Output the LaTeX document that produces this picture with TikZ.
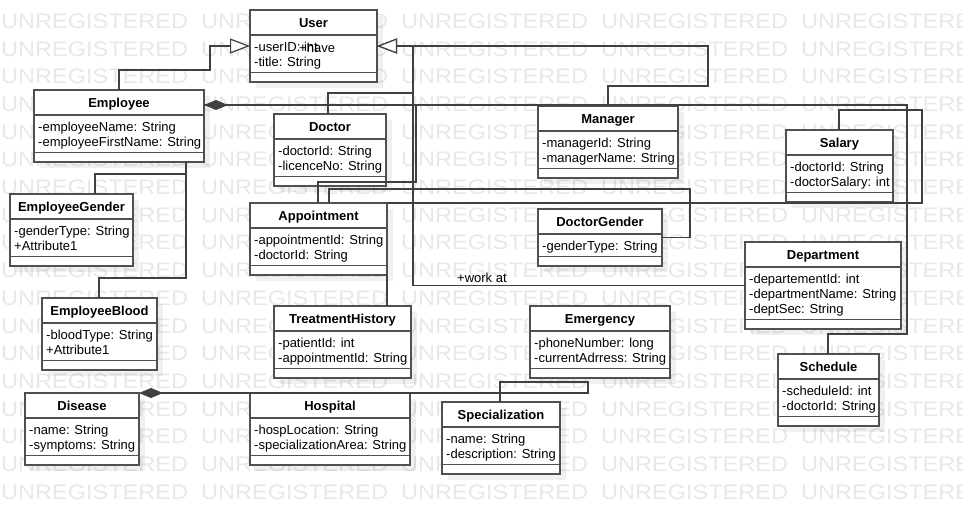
\documentclass[tikz,border=0pt]{standalone}
\usepackage{fontspec}
\setmainfont{Liberation Sans}
\usetikzlibrary{arrows.meta}
\definecolor{lc}{HTML}{404040}
\definecolor{bc}{HTML}{505050}
\definecolor{wm}{HTML}{E8E8E8}
\tikzset{
 clsbox/.style={draw=bc, line width=1.3pt, fill=white, inner sep=0pt, outer sep=0pt},
 clsline/.style={draw=bc, line width=1.3pt},
 clstitle/.style={font=\fontsize{13}{15}\selectfont\bfseries, anchor=base, inner sep=0pt},
 clsattr/.style={font=\fontsize{13}{15}\selectfont, anchor=base west, inner sep=0pt},
 shadowc/.style={fill=black, opacity=0.06},
 conn/.style={draw=lc, line width=1.2pt},
 gen/.style={conn, -{Triangle[length=20pt, width=15pt, fill=white]}},
 comp/.style={conn, {Diamond[length=24pt, width=10pt]}-},
 lbl/.style={font=\fontsize{13}{15}\selectfont, anchor=base west, inner sep=0pt},
 wmark/.style={font=\fontsize{21}{21}\selectfont, text=wm, anchor=base west, inner sep=0pt},
}
\newcommand{\umlclass}[7]{%
 \pgfmathsetmacro{\hh}{42+15*#5}%
 \pgfmathsetmacro{\ha}{32.5+15*#5}%
 \fill[shadowc] (#2+6,#3+6) rectangle (#2+#4+6,#3+\hh+6);
 \node[clsbox, minimum width=#4pt, minimum height=\hh pt, anchor=north west] (#1) at (#2,#3) {};
 \draw[clsline] (#2,#3+25) -- (#2+#4,#3+25);
 \draw[clsline] (#2,#3+\ha) -- (#2+#4,#3+\ha);
 \node[clstitle] (#1-t) at (#2+#4/2,#3+17.5) {#6};
 \foreach \a [count=\i] in {#7} {\node[clsattr] (#1-a\i) at (#2+4,#3+41+15.3*\i-15.3) {\a};}
}
\begin{document}
\begin{tikzpicture}[x=1pt,y=-1pt]
\useasboundingbox (0,0) rectangle (963,514);
\fill[white] (0,0) rectangle (963,514);
\begin{scope}
\clip (0,0) rectangle (963,514);
\foreach \r in {0,...,17} {
  \foreach \c in {0,...,4} {
    \node[wmark] (wm-\r-\c) at (1+200*\c, 28.3+27.7*\r) {\scalebox{1.12}[1]{UNREGISTERED}};
  }
}
\end{scope}
% classes
\umlclass{user}{250}{10}{127}{2}{User}{-userID: int, -title: String}
\umlclass{emp}{34}{90}{170}{2}{Employee}{-employeeName: String, -employeeFirstName: String}
\umlclass{doc}{274}{114}{112}{2}{Doctor}{-doctorId: String, -licenceNo: String}
\umlclass{mgr}{538}{106}{140}{2}{Manager}{-managerId: String, -managerName: String}
\umlclass{sal}{786}{130}{107}{2}{Salary}{-doctorId: String, -doctorSalary: int}
\umlclass{eg}{10}{194}{123}{2}{EmployeeGender}{-genderType: String, +Attribute1}
\umlclass{appt}{250}{203}{137}{2}{Appointment}{-appointmentId: String, -doctorId: String}
\umlclass{dg}{538}{209}{124}{1}{DoctorGender}{-genderType: String}
\umlclass{dept}{745}{242}{156}{3}{Department}{-departementId: int, -departmentName: String, -deptSec: String}
\umlclass{eb}{42}{298}{115}{2}{EmployeeBlood}{-bloodType: String, +Attribute1}
\umlclass{th}{274}{306}{137}{2}{TreatmentHistory}{-patientId: int, -appointmentId: String}
\umlclass{emer}{530}{306}{140}{2}{Emergency}{-phoneNumber: long, -currentAdrress: String}
\umlclass{sch}{778}{354}{101}{2}{Schedule}{-scheduleId: int, -doctorId: String}
\umlclass{dis}{25}{393}{114}{2}{Disease}{-name: String, -symptoms: String}
\umlclass{hosp}{250}{393}{160}{2}{Hospital}{-hospLocation: String, -specializationArea: String}
\umlclass{spec}{442}{402}{118}{2}{Specialization}{-name: String, -description: String}
% connectors
\draw[gen] ([xshift=85pt]emp.north west) |- (210,70) |- (user.west);
\draw[gen] ([xshift=70pt]mgr.north west) |- (708,86) |- (user.east);
\draw[gen] ([xshift=54pt]doc.north west) |- (413,93) |- (user.east);
\draw[conn, shorten >=20pt] (dept.west) -| (413,46) -- (user.east);
\draw[conn] ([xshift=68pt]appt.north west) |- (416,182) |- ([yshift=-15pt]emp.north east);
\draw[comp] ([yshift=-15pt]emp.north east) -| (907,334) -| ([xshift=50pt]sch.north west);
\draw[conn] ([xshift=79pt]appt.north west) |- (690,189) |- (dg.east);
\draw[conn] ([xshift=53pt]sal.north west) |- (922,110) |- (appt.north east);
\draw[conn] (appt.south east) -- (appt.south east |- th.north);
\draw[conn] ([xshift=152pt]emp.south west) |- (95,174) -- ([xshift=85pt]eg.north west);
\draw[conn] ([xshift=152pt]emp.south west) |- (99,278) -- ([xshift=57pt]eb.north west);
\draw[comp] (dis.north east) -- (588,393) |- (500,382) -- ([xshift=58pt]spec.north west);
% labels
\node[lbl] (have) at (299,52) {+have};
\node[lbl] (workat) at (457,282) {+work at};
\end{tikzpicture}
\end{document}
